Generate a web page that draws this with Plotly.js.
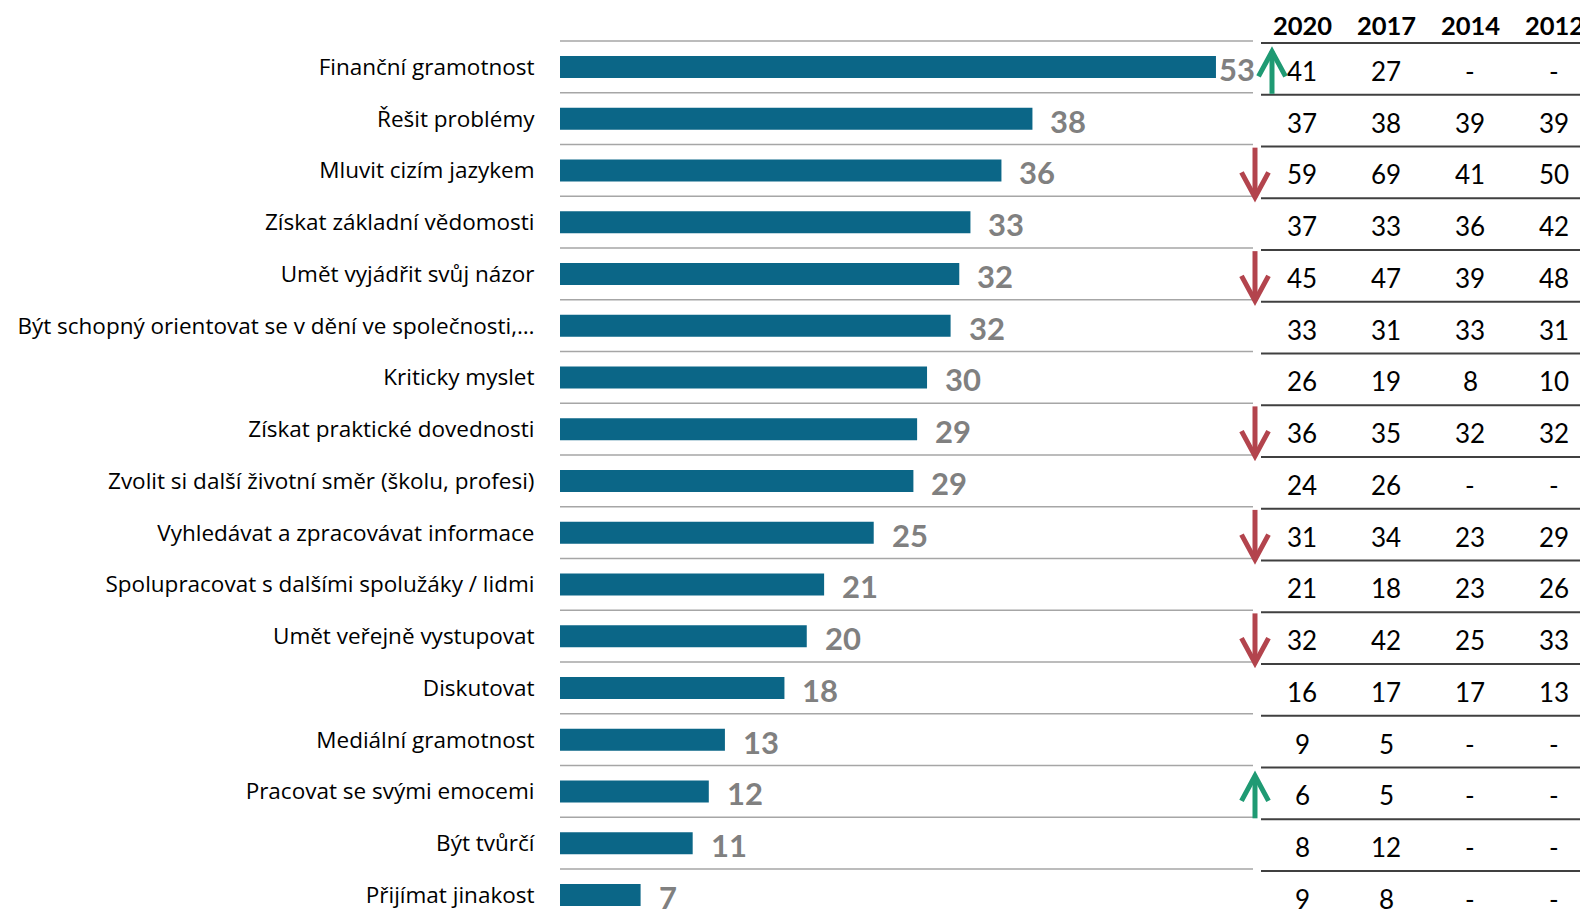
<!DOCTYPE html>
<html>
<head>
<meta charset="utf-8">
<script src="https://cdn.plot.ly/plotly-3.0.1.min.js"></script>
<style>html,body{margin:0;padding:0;background:#fff;}#chart{width:1580px;height:917px;}</style>
</head>
<body>
<div id="chart"></div>
<script>
const categories = [
  'Finanční gramotnost',
  'Řešit problémy',
  'Mluvit cizím jazykem',
  'Získat základní vědomosti',
  'Umět vyjádřit svůj názor',
  'Být schopný orientovat se v dění ve společnosti,…',
  'Kriticky myslet',
  'Získat praktické dovednosti',
  'Zvolit si další životní směr (školu, profesi)',
  'Vyhledávat a zpracovávat informace',
  'Spolupracovat s dalšími spolužáky / lidmi',
  'Umět veřejně vystupovat',
  'Diskutovat',
  'Mediální gramotnost',
  'Pracovat se svými emocemi',
  'Být tvůrčí',
  'Přijímat jinakost'
];
const values = [52.9, 38.1, 35.6, 33.1, 32.2, 31.5, 29.6, 28.8, 28.5, 25.3, 21.3, 19.9, 18.1, 13.3, 12.0, 10.7, 6.5];
const labels = [53, 38, 36, 33, 32, 32, 30, 29, 29, 25, 21, 20, 18, 13, 12, 11, 7];
const years = ['2020', '2017', '2014', '2012'];
const t2020 = ['41','37','59','37','45','33','26','36','24','31','21','32','16','9','6','8','9'];
const t2017 = ['27','38','69','33','47','31','19','35','26','34','18','42','17','5','5','12','8'];
const t2014 = ['-','39','41','36','39','33','8','32','-','23','23','25','17','-','-','-','-'];
const t2012 = ['-','39','50','42','48','31','10','32','-','29','26','33','13','-','-','-','-'];
const trend = ['up','','down','','down','','','down','','down','','down','','','up','',''];

// ---- layout helpers (pixel geometry) ----
const PX = 12.4;           // px per unit on x
const L = 560;             // left margin
const toX = p => (p - L) / PX;
const FONT = 'Lato, "Noto Sans", sans-serif';
const LABEL_FONT = '"Open Sans", "Noto Sans", sans-serif';
const BAR = '#0b6687', GREY = '#808080', GREEN = '#1f9a73', RED = '#b3444d';

const tableCols = [t2020, t2017, t2014, t2012];
const colX = [1302, 1386, 1470, 1554].map(toX);

const annotations = [];
const shapes = [];

// value labels
values.forEach((v, i) => {
  annotations.push({
    x: v, y: categories[i], xref: 'x', yref: 'y', text: String(labels[i]),
    showarrow: false, xanchor: 'left', yanchor: 'middle',
    xshift: i === 0 ? 1 : 16, yshift: -2,
    font: {family: FONT, size: 31, color: GREY, weight: 'bold'}
  });
});
// table header
years.forEach((yr, j) => {
  annotations.push({
    x: colX[j], y: -0.81, xref: 'x', yref: 'y', text: '<b>' + yr + '</b>',
    showarrow: false, xanchor: 'center', yanchor: 'middle',
    font: {family: FONT, size: 25.5, color: '#000'}
  });
});
// table body
tableCols.forEach((col, j) => {
  col.forEach((t, i) => {
    annotations.push({
      x: colX[j], y: i, xref: 'x', yref: 'y', text: t,
      showarrow: false, xanchor: 'center', yanchor: 'middle', yshift: -4,
      font: {family: FONT, size: 26, color: '#000'}
    });
  });
});
// separator lines
for (let k = 0; k <= categories.length - 1; k++) {
  shapes.push({type: 'line', xref: 'x', yref: 'y', x0: 0, x1: toX(1253), y0: k - 0.5, y1: k - 0.5,
    line: {color: '#a6a6a6', width: 1.5}});
  shapes.push({type: 'line', xref: 'x', yref: 'y', x0: toX(1261), x1: toX(1582), y0: k - 0.46, y1: k - 0.46,
    line: {color: '#404040', width: 2}});
}
// trend arrows
const hw = 13.5 / PX, hd = 25 / 51.75;
trend.forEach((t, i) => {
  if (!t) return;
  const ax = i === 0 ? toX(1272) : toX(1255);
  let y1, y2, color, d;
  if (t === 'down') {
    y1 = i - 0.44; y2 = i + 0.52; color = RED; d = -hd;
  } else {
    y1 = i + 0.52; y2 = i - 0.3; color = GREEN; d = hd;
  }
  shapes.push({type: 'path', xref: 'x', yref: 'y',
    path: `M ${ax},${y1} L ${ax},${y2}`, line: {color: color, width: 5}});
  shapes.push({type: 'path', xref: 'x', yref: 'y',
    path: `M ${ax - hw},${y2 + d} L ${ax},${y2} L ${ax + hw},${y2 + d}`, line: {color: color, width: 5}});
});

const trace = {
  type: 'bar', orientation: 'h', x: values, y: categories,
  marker: {color: BAR}, width: 0.425, hoverinfo: 'skip'
};

const layout = {
  width: 1580, height: 917,
  margin: {l: L, r: 0, t: 0, b: 0, pad: 0},
  paper_bgcolor: '#fff', plot_bgcolor: '#fff',
  showlegend: false,
  xaxis: {range: [0, 1020 / PX], visible: false, fixedrange: true},
  yaxis: {
    type: 'category', categoryarray: categories, range: [16.427, -1.293],
    showgrid: false, zeroline: false, showline: false,
    ticks: 'outside', ticklen: 20, tickcolor: 'rgba(0,0,0,0)',
    tickfont: {family: LABEL_FONT, size: 22.5, color: '#000'}, fixedrange: true
  },
  annotations: annotations,
  shapes: shapes
};

Plotly.newPlot('chart', [trace], layout, {displayModeBar: false, staticPlot: true});
</script>
</body>
</html>
